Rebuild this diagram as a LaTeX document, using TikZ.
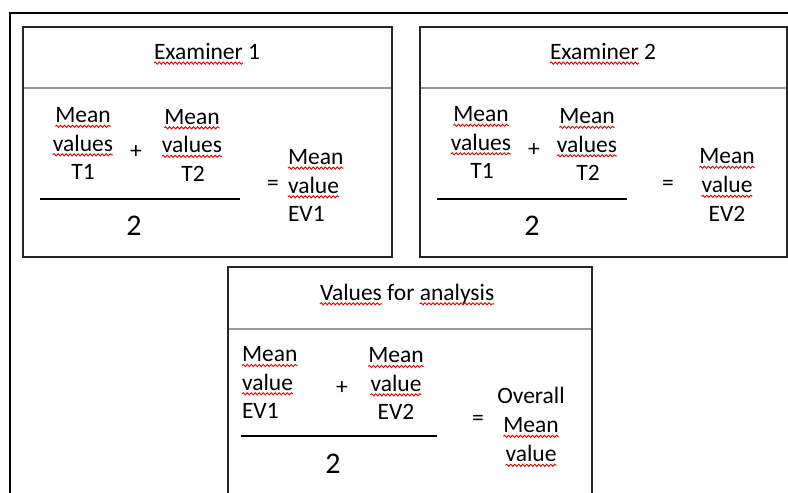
\documentclass[tikz,border=0pt]{standalone}
\usepackage{fontspec}
\setmainfont{Carlito}
\usetikzlibrary{decorations.pathmorphing,calc}
\newcommand\mywavy[1]{\draw[squig] ($(#1.base west)+(0,3.8)$) -- ($(#1.base east)+(0,3.8)$);}
\begin{document}
\begin{tikzpicture}[x=1pt,y=-1pt,
  txt/.style={inner sep=0pt, outer sep=0pt, font=\fontsize{23.5}{28.5}\selectfont},
  word/.style={txt, anchor=base},
  lword/.style={txt, anchor=base west},
  two/.style={inner sep=0pt, outer sep=0pt, anchor=base, font=\fontsize{30}{36}\selectfont},
  boxline/.style={line width=2pt, draw=black!85},
  divline/.style={line width=1.2pt, draw=black!40},
  fracline/.style={line width=2pt, draw=black},
  frameline/.style={line width=2.4pt, draw=black},
  squig/.style={draw=red!90!black, line width=0.9pt, decorate, decoration={snake, segment length=4pt, amplitude=1.1pt}}
]
\useasboundingbox (0,0) rectangle (788,493);
\fill[white] (0,0) rectangle (788,493);
% outer frame
\draw[frameline] (10,493) -- (10,12.7) -- (788,12.7);

% ---------- Box 1 ----------
\draw[boxline] (23,27) rectangle (392,257);
\draw[divline] (24,88) -- (391,88);
\node[lword] (e1a) at (154,59.3) {Examiner};
\node[lword] (e1b) at ($(e1a.base east)+(5.3,0)$) {1};
\mywavy{e1a}
\node[word] (b1m1) at (83,122.5) {Mean};
\node[word] (b1v1) at (83,151) {values};
\node[word] (b1t1) at (83,179.5) {T1};
\node[word] (b1m2) at (192,124) {Mean};
\node[word] (b1v2) at (192,152.5) {values};
\node[word] (b1t2) at (193,181) {T2};
\mywavy{b1m1}\mywavy{b1v1}\mywavy{b1m2}\mywavy{b1v2}
\node[txt] (b1p) at (136,152) {+};
\coordinate (b1fa) at (40,199);
\coordinate (b1fb) at (240,199);
\draw[fracline] (b1fa) -- (b1fb);
\node[two] (b1two) at (134,235) {2};
\node[txt] (b1eq) at (273,185) {=};
\node[lword] (b1rm) at (288,164.3) {Mean};
\node[lword] (b1rv) at (288,193) {value};
\node[lword] (b1re) at (288,221.7) {EV1};
\mywavy{b1rm}\mywavy{b1rv}

% ---------- Box 2 ----------
\draw[boxline] (420,27) rectangle (786.5,257);
\draw[divline] (421,88) -- (785.5,88);
\node[lword] (e2a) at (550,59.3) {Examiner};
\node[lword] (e2b) at ($(e2a.base east)+(5.3,0)$) {2};
\mywavy{e2a}
\node[word] (b2m1) at (481,121.5) {Mean};
\node[word] (b2v1) at (481,150) {values};
\node[word] (b2t1) at (482,178.5) {T1};
\node[word] (b2m2) at (587,123.5) {Mean};
\node[word] (b2v2) at (587,152) {values};
\node[word] (b2t2) at (588,180.5) {T2};
\mywavy{b2m1}\mywavy{b2v1}\mywavy{b2m2}\mywavy{b2v2}
\node[txt] (b2p) at (534,150) {+};
\coordinate (b2fa) at (437,199);
\coordinate (b2fb) at (627,199);
\draw[fracline] (b2fa) -- (b2fb);
\node[two] (b2two) at (532,235) {2};
\node[txt] (b2eq) at (668,185) {=};
\node[word] (b2rm) at (727,163.5) {Mean};
\node[word] (b2rv) at (727,192.5) {value};
\node[word] (b2re) at (727,221) {EV2};
\mywavy{b2rm}\mywavy{b2rv}

% ---------- Box 3 ----------
\draw[boxline] (228,493) -- (228,267) -- (592,267) -- (592,493);
\draw[divline] (229,329) -- (591,329);
\node[lword] (e3a) at (320,300) {Values};
\node[lword] (e3b) at ($(e3a.base east)+(5.3,0)$) {for};
\node[lword] (e3c) at ($(e3b.base east)+(5.3,0)$) {analysis};
\mywavy{e3a}\mywavy{e3c}
\node[lword] (b3m1) at (242,361.7) {Mean};
\node[lword] (b3v1) at (242,390) {value};
\node[lword] (b3e1) at (242,418.5) {EV1};
\node[word] (b3m2) at (396,362.7) {Mean};
\node[word] (b3v2) at (396,391) {value};
\node[word] (b3e2) at (396,419.5) {EV2};
\mywavy{b3m1}\mywavy{b3v1}\mywavy{b3m2}\mywavy{b3v2}
\node[txt] (b3p) at (342,388.3) {+};
\coordinate (b3fa) at (241,436);
\coordinate (b3fb) at (437,436);
\draw[fracline] (b3fa) -- (b3fb);
\node[two] (b3two) at (333,473.3) {2};
\node[txt] (b3eq) at (478,420) {=};
\node[word] (b3ro) at (531,403.3) {Overall};
\node[word] (b3rm) at (531,432.5) {Mean};
\node[word] (b3rv) at (531,461.5) {value};
\mywavy{b3rm}\mywavy{b3rv}
\end{tikzpicture}
\end{document}
